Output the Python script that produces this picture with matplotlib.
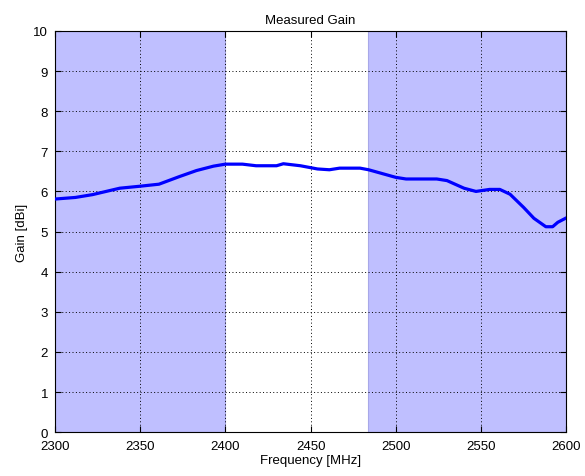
import matplotlib
matplotlib.use('Agg')
import matplotlib.pyplot as plt

# measured gain curve
freq = [2300, 2312, 2322, 2338, 2350, 2361, 2373, 2383, 2393, 2400, 2410, 2418,
        2430, 2434, 2444, 2454, 2461, 2467, 2479, 2484, 2500, 2506, 2524, 2530,
        2540, 2547, 2555, 2561, 2567, 2575, 2581, 2588, 2592, 2595, 2600]
gain = [5.81, 5.85, 5.92, 6.08, 6.13, 6.18, 6.37, 6.52, 6.63, 6.68, 6.68, 6.64,
        6.64, 6.69, 6.64, 6.56, 6.54, 6.58, 6.58, 6.54, 6.35, 6.31, 6.31, 6.27,
        6.08, 6.00, 6.05, 6.05, 5.93, 5.60, 5.33, 5.12, 5.12, 5.23, 5.34]

# out-of-band regions
bands = [(2300, 2400), (2483.5, 2600)]

plt.rcParams['font.family'] = ['Liberation Sans', 'DejaVu Sans']
fig = plt.figure(figsize=(5.85, 4.77), dpi=100)
ax = fig.add_axes([0.094, 0.092, 0.874, 0.841])

for lo, hi in bands:
    ax.axvspan(lo, hi, facecolor='#bfbfff', edgecolor='#a8a8e8', linewidth=0.8, zorder=0)

ax.plot(freq, gain, color='#0000ff', linewidth=2.3, zorder=3)

ax.set_xlim(2300, 2600)
ax.set_ylim(0, 10)
ax.set_xticks(range(2300, 2601, 50))
ax.set_yticks(range(0, 11))
ax.grid(True, color='black', linestyle=(0, (1, 2.5)), linewidth=0.7)
ax.set_axisbelow(False)
ax.tick_params(direction='in', top=True, right=True, labelsize=9.5, length=4)
ax.tick_params(axis='x', pad=6)
ax.tick_params(axis='y', pad=5)
ax.set_title('Measured Gain', fontsize=9.5)
ax.set_xlabel('Frequency [MHz]', fontsize=9.5, labelpad=1)
ax.set_ylabel('Gain [dBi]', fontsize=9.5)

plt.savefig('out.png', dpi=100)
